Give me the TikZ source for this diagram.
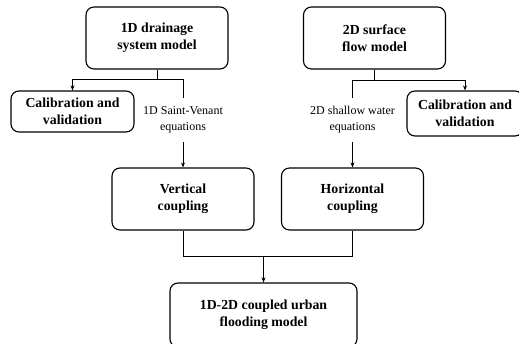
\documentclass[tikz,border=0pt]{standalone}
\usepackage{fontspec}
\setmainfont{Liberation Serif}
\usetikzlibrary{arrows.meta}

\begin{document}
\begin{tikzpicture}[x=1pt,y=-1pt,
    box/.style={shape=rectangle,draw=black,line width=1.1pt,rounded corners=8pt,align=center,
        minimum width=142pt,minimum height=62pt,font=\bfseries\fontsize{13.8}{17}\selectfont},
    calib/.style={box,minimum width=123pt,minimum height=41pt},
    eqn/.style={align=center,minimum height=44pt,inner sep=0pt,font=\fontsize{12}{16}\selectfont},
    link/.style={line width=0.8pt},
    arr/.style={link,-{Stealth[length=5pt,width=4pt]}}]
    \useasboundingbox (0,0) rectangle (519,344);

    \node[box] (drain) at (157,38) {1D drainage\\system model};
    \node[box] (surf) at (374.5,38) {2D surface\\flow model};
    \node[calib] (calL) at (72.5,111.5) {Calibration and\\validation};
    \node[calib,minimum width=116pt,minimum height=45pt] (calR) at (465,113.5) {Calibration and\\validation};
    \node[eqn] (eqL) at (183,120) {1D Saint-Venant\\equations};
    \node[eqn] (eqR) at (352.5,120) {2D shallow water\\equations};
    \node[box] (vert) at (183,199) {Vertical\\coupling};
    \node[box] (hori) at (352.5,199) {Horizontal\\coupling};
    \node[box,minimum width=187pt,minimum height=64pt] (urban) at (263.5,315) {1D-2D coupled urban\\flooding model};

    \coordinate (splitL) at (157,79.5);
    \coordinate (splitR) at (374.5,80);
    \coordinate (merge) at (263.5,256);

    \draw[link] (drain) -- (splitL);
    \draw[arr] (splitL) -| (calL);
    \draw[link] (splitL) -| (eqL);
    \draw[arr] (eqL) -- (vert);

    \draw[link] (surf) -- (splitR);
    \draw[arr] (splitR) -| (calR);
    \draw[link] (splitR) -| (eqR);
    \draw[arr] (eqR) -- (hori);

    \draw[link] (vert) |- (merge);
    \draw[link] (hori) |- (merge);
    \draw[arr] (merge) -- (urban);
\end{tikzpicture}
\end{document}
